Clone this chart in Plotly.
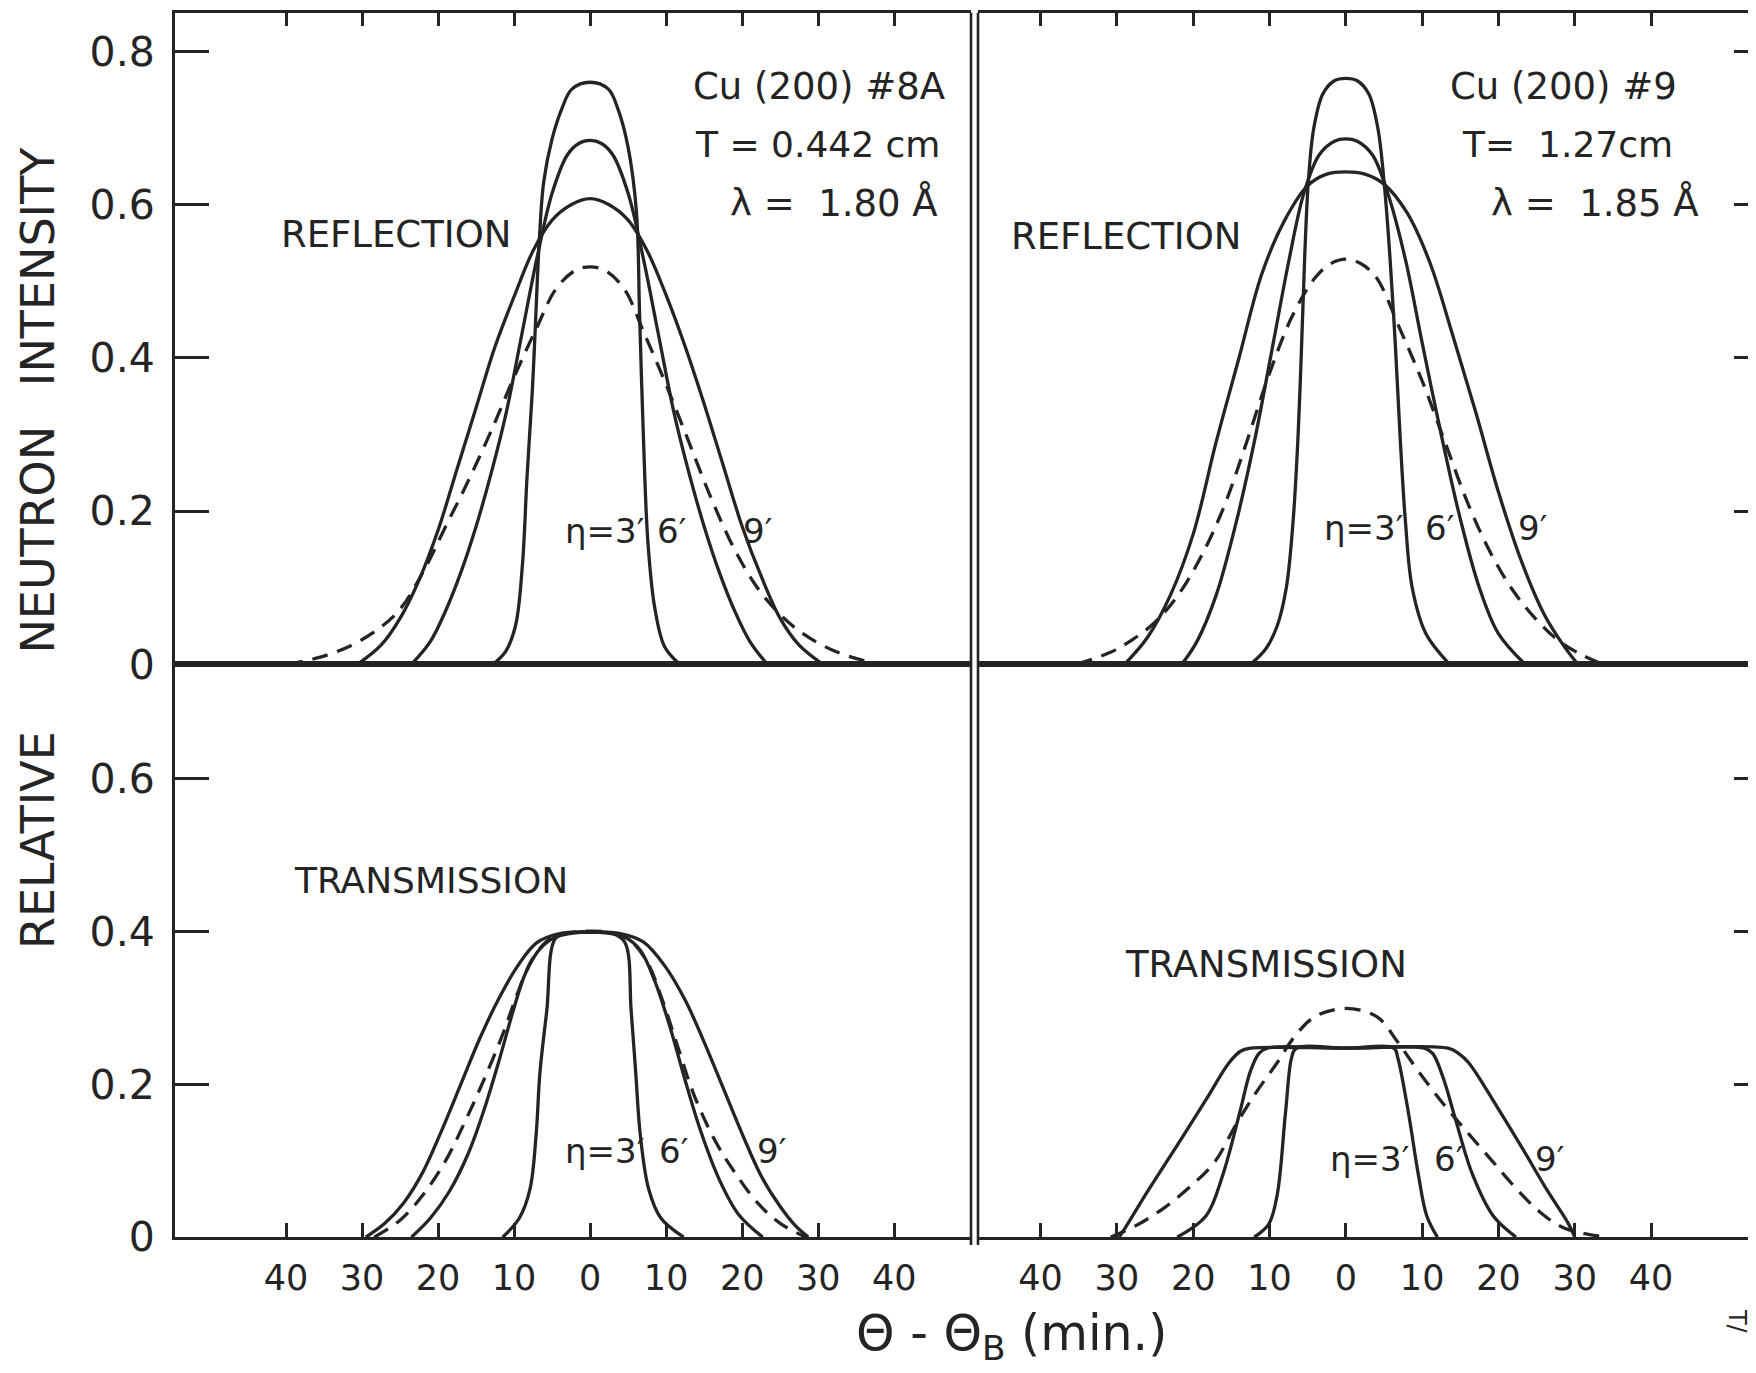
import plotly.graph_objects as go

W, H = 1756, 1373
INK = "#242424"
FONT = "DejaVu Sans"

# ---------------- data (theta - theta_B in minutes, relative intensity) ----------------
# Top-left: Cu (200) #8A reflection
TL_3_x = [-12.8, -11.1, -9.8, -8.9, -8.3, -7.6, -7.2, -6.7, -6.1, -5.0, -3.7, -2.4, 0, 2.4, 3.7, 5.0, 6.1, 6.5, 7.0, 7.6, 8.5, 9.8, 11.8]
TL_3_y = [0, 0.017, 0.051, 0.13, 0.244, 0.357, 0.442, 0.55, 0.63, 0.686, 0.726, 0.751, 0.760, 0.751, 0.724, 0.675, 0.59, 0.46, 0.30, 0.16, 0.074, 0.023, 0]
TL_6_x = [-23.5, -21.0, -19.0, -17.0, -15.0, -13.0, -11.0, -9.0, -7.0, -5.0, -3.0, -1.5, 0, 1.5, 3.0, 5.0, 7.0, 9.0, 11.0, 13.0, 15.0, 17.0, 19.0, 21.0, 23.3]
TL_6_y = [0, 0.03, 0.07, 0.12, 0.18, 0.25, 0.33, 0.43, 0.53, 0.615, 0.665, 0.68, 0.684, 0.68, 0.665, 0.615, 0.53, 0.43, 0.33, 0.25, 0.18, 0.12, 0.07, 0.03, 0]
TL_9_x = [-30.6, -27.5, -25.0, -22.5, -20.0, -17.5, -15.0, -12.5, -10.0, -7.5, -5.0, -2.5, 0, 2.5, 5.0, 7.5, 10.0, 12.5, 15.0, 17.5, 20.0, 22.5, 25.0, 27.5, 30.6]
TL_9_y = [0, 0.025, 0.06, 0.11, 0.175, 0.255, 0.335, 0.415, 0.48, 0.54, 0.58, 0.60, 0.608, 0.60, 0.58, 0.54, 0.482, 0.415, 0.34, 0.26, 0.18, 0.115, 0.06, 0.025, 0]
TL_d_x = [-39.9, -36.0, -32.0, -28.0, -25.0, -22.0, -19.0, -16.0, -13.0, -10.0, -7.0, -4.5, -2.0, 0, 2.0, 4.5, 7.0, 10.0, 13.0, 16.0, 19.0, 22.0, 25.0, 28.0, 32.0, 36.0, 39.3]
TL_d_y = [0, 0.008, 0.022, 0.045, 0.072, 0.12, 0.18, 0.24, 0.305, 0.375, 0.44, 0.49, 0.514, 0.519, 0.514, 0.49, 0.435, 0.365, 0.29, 0.215, 0.15, 0.10, 0.065, 0.04, 0.018, 0.005, 0]

# Top-right: Cu (200) #9 reflection
TR_3_x = [-12.5, -10.5, -9.0, -7.8, -6.9, -6.25, -5.8, -5.4, -4.9, -4.2, -3.0, -1.5, 0, 1.5, 3.0, 4.2, 5.1, 5.8, 6.5, 7.1, 7.8, 8.7, 10.5, 13.6]
TR_3_y = [0, 0.02, 0.05, 0.10, 0.188, 0.30, 0.415, 0.529, 0.632, 0.70, 0.745, 0.762, 0.765, 0.762, 0.745, 0.70, 0.62, 0.529, 0.415, 0.30, 0.188, 0.10, 0.04, 0]
TR_6_x = [-21.5, -19.5, -17.0, -14.5, -12.0, -9.5, -7.5, -5.5, -3.5, -1.5, 0, 1.5, 3.5, 5.5, 7.8, 10.0, 12.5, 15.0, 17.5, 20.0, 23.5]
TR_6_y = [0, 0.03, 0.09, 0.18, 0.29, 0.42, 0.525, 0.615, 0.665, 0.683, 0.686, 0.683, 0.665, 0.615, 0.529, 0.42, 0.30, 0.19, 0.10, 0.04, 0]
TR_9_x = [-29.0, -26.0, -23.0, -20.0, -17.0, -14.0, -11.0, -8.0, -5.0, -2.5, 0, 2.5, 5.0, 8.0, 11.0, 14.0, 17.0, 20.0, 23.0, 26.0, 28.5, 30.4]
TR_9_y = [0, 0.035, 0.09, 0.17, 0.29, 0.40, 0.51, 0.58, 0.625, 0.64, 0.643, 0.64, 0.627, 0.59, 0.525, 0.43, 0.33, 0.225, 0.135, 0.065, 0.025, 0]
TR_d_x = [-35.3, -31.0, -28.0, -25.0, -22.0, -19.0, -16.0, -13.0, -10.0, -7.0, -4.0, -2.0, 0, 2.0, 4.0, 7.0, 10.0, 13.0, 16.0, 19.0, 22.0, 25.0, 28.0, 31.0, 33.7]
TR_d_y = [0, 0.015, 0.032, 0.055, 0.09, 0.14, 0.205, 0.29, 0.38, 0.455, 0.505, 0.523, 0.529, 0.523, 0.505, 0.44, 0.37, 0.29, 0.21, 0.145, 0.095, 0.058, 0.03, 0.012, 0]

# Bottom-left: Cu (200) #8A transmission
BL_3_x = [-11.5, -9.3, -7.9, -7.1, -6.6, -5.7, -4.6, -3.0, 0, 3.0, 4.6, 5.4, 6.0, 6.6, 7.7, 9.3, 12.3]
BL_3_y = [0, 0.025, 0.063, 0.134, 0.215, 0.296, 0.39, 0.397, 0.399, 0.397, 0.385, 0.296, 0.215, 0.134, 0.063, 0.025, 0]
BL_6_x = [-23.5, -21.0, -18.5, -16.0, -14.0, -12.0, -10.0, -8.5, -6.6, -4.6, -2.0, 0, 2.0, 4.6, 6.6, 8.5, 10.5, 12.5, 14.5, 17.0, 19.5, 22.7]
BL_6_y = [0, 0.025, 0.06, 0.11, 0.165, 0.23, 0.30, 0.345, 0.377, 0.392, 0.398, 0.399, 0.398, 0.392, 0.375, 0.335, 0.275, 0.205, 0.14, 0.075, 0.03, 0]
BL_9_x = [-29.5, -27.0, -24.5, -22.0, -19.5, -17.0, -14.5, -12.0, -9.5, -7.0, -4.0, 0, 4.0, 7.0, 9.8, 12.5, 15.0, 17.5, 20.0, 22.5, 25.0, 27.0, 28.7]
BL_9_y = [0, 0.018, 0.045, 0.085, 0.14, 0.20, 0.26, 0.312, 0.355, 0.385, 0.397, 0.399, 0.397, 0.386, 0.355, 0.31, 0.255, 0.195, 0.135, 0.08, 0.04, 0.015, 0]
BL_d_x = [-28.4, -25.0, -22.0, -19.0, -16.5, -14.0, -11.5, -9.5, -7.5, -5.0, -2.0, 0, 2.0, 5.0, 7.5, 9.5, 11.5, 13.7, 16.5, 19.0, 22.0, 25.0, 28.4]
BL_d_y = [0, 0.022, 0.055, 0.10, 0.15, 0.205, 0.265, 0.32, 0.365, 0.392, 0.399, 0.40, 0.399, 0.39, 0.36, 0.31, 0.25, 0.185, 0.125, 0.085, 0.045, 0.018, 0]

# Bottom-right: Cu (200) #9 transmission
BR_3_x = [-12.0, -10.1, -9.0, -7.9, -7.1, -6.5, 0, 6.3, 6.8, 8.2, 9.5, 10.6, 12.0]
BR_3_y = [0, 0.017, 0.055, 0.163, 0.235, 0.247, 0.247, 0.247, 0.235, 0.163, 0.082, 0.028, 0]
BR_6_x = [-22.1, -18.3, -16.1, -13.9, -12.5, -11.4, -10.3, 0, 10.3, 11.4, 12.8, 14.4, 16.6, 19.3, 22.3]
BR_6_y = [0, 0.028, 0.082, 0.163, 0.217, 0.24, 0.247, 0.247, 0.247, 0.24, 0.207, 0.153, 0.082, 0.028, 0]
BR_9_x = [-29.7, -28.6, -25.9, -22.1, -18.3, -15.3, -13.8, -12.5, 0, 13.4, 14.8, 16.1, 19.9, 23.2, 26.4, 29.2, 30.0]
BR_9_y = [0, 0.017, 0.061, 0.12, 0.18, 0.228, 0.243, 0.247, 0.247, 0.247, 0.24, 0.228, 0.169, 0.115, 0.061, 0.017, 0]
BR_d_x = [-30.8, -27.5, -23.7, -20.4, -17.2, -14.4, -11.7, -9.0, -6.8, -4.1, 0, 4.1, 6.8, 9.5, 12.8, 15.5, 18.8, 22.1, 25.3, 28.6, 34.1]
BR_d_y = [0, 0.015, 0.039, 0.066, 0.098, 0.147, 0.19, 0.228, 0.261, 0.288, 0.299, 0.288, 0.255, 0.217, 0.174, 0.142, 0.104, 0.066, 0.034, 0.012, 0]

X_TICKS = [-40, -30, -20, -10, 0, 10, 20, 30, 40]
X_TICKTEXT = [str(abs(v)) for v in X_TICKS]
Y_TOP_TICKS = [0, 0.2, 0.4, 0.6, 0.8]
Y_TOP_TEXT = ["0", "0.2", "0.4", "0.6", "0.8"]
Y_BOT_TICKS = [0, 0.2, 0.4, 0.6]
Y_BOT_TEXT = ["0", "0.2", "0.4", "0.6"]

# ---------------- figure ----------------
# layout positions are given in (measured) reference pixels and mapped to paper fractions
def px(x):
    return (x - 7) / W

def py(y):
    return 1 - (1.01566 * y - 6.4) / H

fig = go.Figure()

panels = [
    ("x", "y", [(TL_3_x, TL_3_y, False), (TL_6_x, TL_6_y, False), (TL_9_x, TL_9_y, False), (TL_d_x, TL_d_y, True)]),
    ("x2", "y2", [(TR_3_x, TR_3_y, False), (TR_6_x, TR_6_y, False), (TR_9_x, TR_9_y, False), (TR_d_x, TR_d_y, True)]),
    ("x3", "y3", [(BL_3_x, BL_3_y, False), (BL_6_x, BL_6_y, False), (BL_9_x, BL_9_y, False), (BL_d_x, BL_d_y, True)]),
    ("x4", "y4", [(BR_3_x, BR_3_y, False), (BR_6_x, BR_6_y, False), (BR_9_x, BR_9_y, False), (BR_d_x, BR_d_y, True)]),
]
for xa, ya, curves in panels:
    for xs, ys, dashed in curves:
        fig.add_trace(go.Scatter(
            x=xs, y=ys, xaxis=xa, yaxis=ya, mode="lines",
            line=dict(color=INK, width=3.3, shape="spline", smoothing=1.0,
                      dash="16px,10px" if dashed else "solid"),
            showlegend=False, hoverinfo="skip"))

L_DOM = [px(174), px(970)]
R_DOM = [px(977), 1.0]
T_DOM = [py(664), py(11)]
B_DOM = [py(1238), py(664)]
L_RANGE = [-54.6, 50.1]
R_RANGE = [-48.2, 54.8]
T_RANGE = [0, 0.8508]
B_RANGE = [0, 0.749]

common = dict(showgrid=False, zeroline=False, linecolor=INK, linewidth=3,
              tickcolor=INK, tickwidth=3, fixedrange=True)
tfont = dict(family=FONT, size=35, color=INK)
yfont = dict(family=FONT, size=41, color=INK)

fig.update_layout(
    width=W, height=H, margin=dict(l=0, r=0, t=0, b=0),
    paper_bgcolor="white", plot_bgcolor="rgba(0,0,0,0)", showlegend=False,
    xaxis=dict(domain=L_DOM, range=L_RANGE, anchor="y", side="top", ticks="inside", ticklen=13,
               tickvals=X_TICKS, showticklabels=False, showline=True, mirror=True, **common),
    xaxis2=dict(domain=R_DOM, range=R_RANGE, anchor="y2", side="top", ticks="inside", ticklen=13,
                tickvals=X_TICKS, showticklabels=False, showline=True, mirror=True, **common),
    xaxis3=dict(domain=L_DOM, range=L_RANGE, anchor="y3", side="bottom", ticks="inside", ticklen=14,
                tickvals=X_TICKS, ticktext=X_TICKTEXT, tickfont=tfont, ticklabelstandoff=8,
                showline=True, mirror=True, **common),
    xaxis4=dict(domain=R_DOM, range=R_RANGE, anchor="y4", side="bottom", ticks="inside", ticklen=14,
                tickvals=X_TICKS, ticktext=X_TICKTEXT, tickfont=tfont, ticklabelstandoff=8,
                showline=True, mirror=True, **common),
    yaxis=dict(domain=T_DOM, range=T_RANGE, anchor="x", side="left", ticks="inside", ticklen=34,
               tickvals=Y_TOP_TICKS, ticktext=Y_TOP_TEXT, tickfont=yfont, ticklabelstandoff=9,
               showline=True, mirror=False, **common),
    yaxis2=dict(domain=T_DOM, range=T_RANGE, anchor="x2", side="right", ticks="inside", ticklen=30,
                tickvals=Y_TOP_TICKS[1:], showticklabels=False, showline=False, **common),
    yaxis3=dict(domain=B_DOM, range=B_RANGE, anchor="x3", side="left", ticks="inside", ticklen=34,
                tickvals=Y_BOT_TICKS, ticktext=Y_BOT_TEXT, tickfont=yfont, ticklabelstandoff=9,
                showline=True, mirror=False, **common),
    yaxis4=dict(domain=B_DOM, range=B_RANGE, anchor="x4", side="right", ticks="inside", ticklen=30,
                tickvals=Y_BOT_TICKS[1:], showticklabels=False, showline=False, **common),
)

# double divider between the two columns
for xpix in (970, 977):
    fig.add_shape(type="line", xref="paper", yref="paper", x0=px(xpix), x1=px(xpix),
                  y0=py(1246), y1=py(11), line=dict(color=INK, width=2.6))

def txt(text, x, y, size, xanchor="center", angle=0):
    fig.add_annotation(text=text, x=px(x), y=py(y), xref="paper", yref="paper",
                       showarrow=False, xanchor=xanchor, yanchor="middle", textangle=angle,
                       font=dict(family=FONT, size=size, color=INK))

# panel labels
txt("REFLECTION", 395, 233, 37)
txt("REFLECTION", 1125, 235, 37)
txt("TRANSMISSION", 430, 881, 36)
txt("TRANSMISSION", 1265, 965, 37)

# sample info
txt("Cu (200) #8A", 946, 85, 37, "right")
txt("T = 0.442 cm", 941, 143, 36, "right")
txt("λ =  1.80 Å", 939, 202, 37, "right")
txt("Cu (200) #9", 1678, 85, 37, "right")
txt("T=  1.27cm", 1674, 143, 36, "right")
txt("λ =  1.85 Å", 1700, 202, 37, "right")

# mosaic spread labels
for (xe, x6, x9, yy) in [(603, 670, 756, 530), (1362, 1438, 1531, 527),
                         (603, 672, 770, 1152), (1368, 1447, 1548, 1160)]:
    txt("η=3′", xe, yy, 34)
    txt("6′", x6, yy, 34)
    txt("9′", x9, yy, 34)

# axis titles
txt("INTENSITY", 37, 266, 46, angle=-90)
txt("NEUTRON", 37, 539, 46, angle=-90)
txt("RELATIVE", 37, 840, 46, angle=-90)
txt("Θ - Θ<sub>B</sub> (min.)", 1010, 1338, 49)

# cropped marginal mark at the lower right edge of the page
txt("T/", 1736, 1322, 24, angle=90)

fig.write_html("out.html", config={"displayModeBar": False})
